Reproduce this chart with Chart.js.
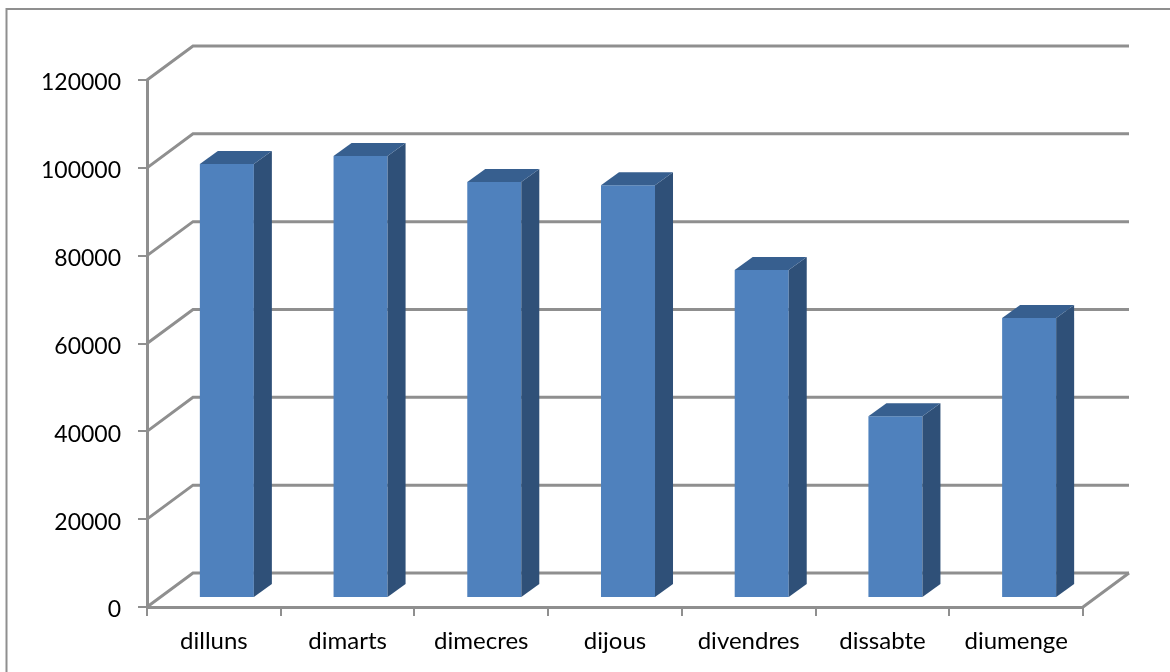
<!DOCTYPE html>
<html>
<head>
<meta charset="utf-8">
<style>
  html, body { margin: 0; padding: 0; background: #fff; overflow: hidden; }
  #box { position: relative; width: 1170px; height: 672px; filter: blur(0.5px); }
</style>
<script src="https://cdn.jsdelivr.net/npm/chart.js@4"></script>
</head>
<body>
<div id="box"><canvas id="chart"></canvas></div>
<script>
const categories = ['dilluns', 'dimarts', 'dimecres', 'dijous', 'divendres', 'dissabte', 'diumenge'];
const visits = [98800, 100650, 94700, 94000, 74700, 41400, 63750];
const yMin = 0;
const yMax = 120000;
const yStep = 20000;

const gray = '#8f8f8f';
const barFront = '#4f81bd';
const barSide = '#2f5078';
const barTop = '#375f8f';

// 3d look: back wall offset and bar offset
const wallX = 46, wallY = 34;
const barShiftX = 13, barShiftY = 9;
const depthX = 18, depthY = 13;

const walls = {
    id: 'walls',
    beforeDraw(chart) {
        const ctx = chart.ctx;
        // outer frame, runs off the right and bottom of the picture
        ctx.save();
        ctx.strokeStyle = gray;
        ctx.lineWidth = 2;
        ctx.beginPath();
        ctx.moveTo(6.5, 672);
        ctx.lineTo(6.5, 9);
        ctx.lineTo(1170, 9);
        ctx.stroke();
        ctx.restore();
    },
    beforeDatasetsDraw(chart) {
        const ctx = chart.ctx;
        const x = chart.scales.x;
        const y = chart.scales.y;
        ctx.save();
        ctx.strokeStyle = gray;
        ctx.lineWidth = 3;
        for (let v = yMin; v <= yMax; v += yStep) {
            const py = y.getPixelForValue(v);
            ctx.beginPath();
            ctx.moveTo(x.left, py);
            ctx.lineTo(x.left + wallX, py - wallY);
            ctx.lineTo(x.right + wallX, py - wallY);
            ctx.stroke();
        }
        // right edge of the floor
        const y0 = y.getPixelForValue(yMin);
        ctx.beginPath();
        ctx.moveTo(x.right, y0);
        ctx.lineTo(x.right + wallX, y0 - wallY);
        ctx.stroke();
        ctx.restore();
    },
    beforeDatasetDraw(chart) {
        chart.ctx.save();
        chart.ctx.translate(barShiftX, -barShiftY);
    },
    afterDatasetDraw(chart, args) {
        const ctx = chart.ctx;
        args.meta.data.forEach(bar => {
            const p = bar.getProps(['x', 'y', 'base', 'width'], true);
            const l = p.x - p.width / 2;
            const r = p.x + p.width / 2;
            ctx.fillStyle = barSide;
            ctx.beginPath();
            ctx.moveTo(r, p.y);
            ctx.lineTo(r + depthX, p.y - depthY);
            ctx.lineTo(r + depthX, p.base - depthY);
            ctx.lineTo(r, p.base);
            ctx.closePath();
            ctx.fill();
            ctx.fillStyle = barTop;
            ctx.beginPath();
            ctx.moveTo(l, p.y);
            ctx.lineTo(l + depthX, p.y - depthY);
            ctx.lineTo(r + depthX, p.y - depthY);
            ctx.lineTo(r, p.y);
            ctx.closePath();
            ctx.fill();
        });
        ctx.restore();
    }
};

new Chart(document.getElementById('chart'), {
    type: 'bar',
    data: {
        labels: categories,
        datasets: [{
            data: visits,
            backgroundColor: barFront,
            barPercentage: 0.404,
            categoryPercentage: 1,
            clip: false
        }]
    },
    options: {
        responsive: true,
        maintainAspectRatio: false,
        animation: false,
        layout: { padding: { top: 80, right: 87, left: 0, bottom: 0 } },
        plugins: { legend: { display: false }, title: { display: false }, tooltip: { enabled: false } },
        scales: {
            x: {
                afterFit(scale) { scale.height = 65; },
                border: { color: gray, width: 3 },
                grid: { drawOnChartArea: false, color: gray, lineWidth: 2, tickLength: 9 },
                ticks: { color: '#000', font: { family: 'Lato', size: 24 }, padding: 11, maxRotation: 0 }
            },
            y: {
                min: yMin,
                max: yMax,
                afterFit(scale) {
                    scale.width = 147;
                    // labels sit a little below their ticks in the original
                    if (!scale.shifted) {
                        const drawLabels = scale.drawLabels.bind(scale);
                        scale.drawLabels = area => {
                            scale.ctx.save();
                            scale.ctx.translate(0, 3);
                            drawLabels(area);
                            scale.ctx.restore();
                        };
                        scale.shifted = true;
                    }
                },
                border: { color: gray, width: 3 },
                grid: { drawOnChartArea: false, color: gray, lineWidth: 2, tickLength: 9 },
                ticks: {
                    stepSize: yStep,
                    color: '#000',
                    font: { family: 'Lato', size: 23 },
                    padding: 17,
                    callback: v => String(v)
                }
            }
        }
    },
    plugins: [walls]
});
</script>
</body>
</html>
